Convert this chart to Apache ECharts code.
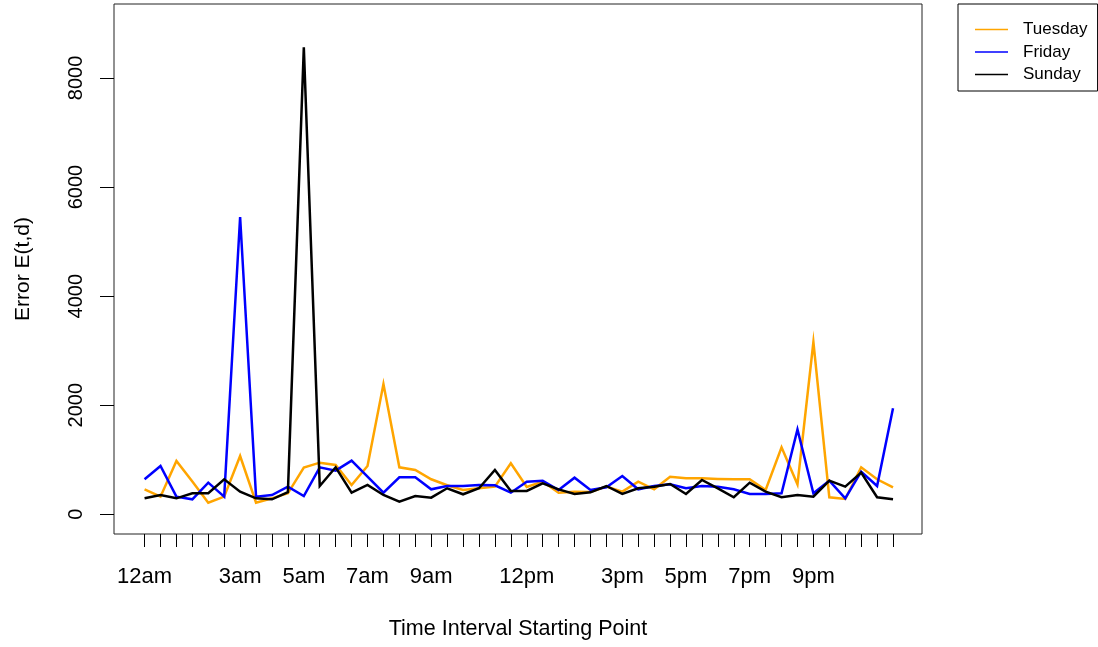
<!DOCTYPE html>
<html>
<head>
<meta charset="utf-8">
<script src="https://cdn.jsdelivr.net/npm/echarts@6/dist/echarts.min.js"></script>
<style>
  html, body { margin: 0; padding: 0; background: #fff; }
  #chart { width: 1098px; height: 647px; }
</style>
</head>
<body>
<div id="chart"></div>
<script>
// 48 half-hour intervals across the day (index 0 = 12am)
const slotCount = 48;
const tickLabelSlots = [0, 6, 10, 14, 18, 24, 30, 34, 38, 42];
const tickLabels = ['12am', '3am', '5am', '7am', '9am', '12pm', '3pm', '5pm', '7pm', '9pm'];
const yTicks = [0, 2000, 4000, 6000, 8000];

const seriesNames = ['Tuesday', 'Friday', 'Sunday'];

const tuesday = [458, 324, 978, 600, 214, 324, 1069, 214, 293, 385, 855, 947,
  904, 538, 886, 2389, 862, 813, 642, 532, 446, 477, 507, 935,
  500, 600, 397, 415, 409, 507, 415, 599, 458, 690, 660, 660,
  648, 642, 642, 446, 1228, 550, 3159, 312, 281, 862, 642, 495];

const friday = [642, 886, 324, 275, 580, 324, 5450, 324, 354, 507, 336, 862,
  800, 984, 690, 397, 678, 678, 458, 519, 519, 538, 532, 397,
  599, 617, 446, 672, 446, 495, 703, 458, 519, 550, 477, 519,
  507, 458, 373, 373, 385, 1558, 385, 617, 293, 782, 519, 1943];

const sunday = [293, 354, 293, 385, 385, 642, 415, 293, 275, 407, 8560, 519,
  862, 397, 538, 354, 232, 336, 305, 477, 367, 477, 813, 428,
  428, 568, 458, 373, 403, 519, 373, 477, 507, 556, 373, 629,
  477, 312, 580, 415, 312, 354, 324, 617, 507, 764, 312, 275];

const seriesColors = ['#FFA500', '#0000FF', '#000000'];

const slots = Array.from({ length: slotCount }, (_, i) => i);
const toPairs = vals => vals.map((v, i) => [i, v]);

const FONT = '"Liberation Sans", Arial, sans-serif';

const chart = echarts.init(document.getElementById('chart'), null, { renderer: 'canvas' });

chart.setOption({
  animation: false,
  backgroundColor: '#ffffff',
  grid: {
    left: 114, right: 176, top: 4, bottom: 113,
    show: true, borderColor: '#222', borderWidth: 1, backgroundColor: 'transparent'
  },
  xAxis: {
    type: 'value',
    min: -1.92,
    max: 48.82,
    name: 'Time Interval Starting Point',
    nameLocation: 'middle',
    nameGap: 84,
    nameTextStyle: { fontFamily: FONT, fontSize: 21.5, color: '#000' },
    axisLine: { show: false, onZero: false },
    splitLine: { show: false },
    axisTick: {
      show: true, length: 13, inside: false,
      customValues: slots,
      lineStyle: { color: '#000', width: 1 }
    },
    axisLabel: {
      show: true,
      customValues: tickLabelSlots,
      margin: 32,
      fontFamily: FONT, fontSize: 22, color: '#000',
      formatter: v => tickLabels[tickLabelSlots.indexOf(Math.round(v))] || ''
    }
  },
  yAxis: {
    type: 'value',
    min: -361,
    max: 9356,
    name: 'Error E(t,d)',
    nameLocation: 'middle',
    nameGap: 80,
    nameTextStyle: { fontFamily: FONT, fontSize: 21, color: '#000' },
    axisLine: { show: false, onZero: false },
    splitLine: { show: false },
    axisTick: {
      show: true, length: 14, inside: false,
      customValues: yTicks,
      lineStyle: { color: '#000', width: 1 }
    },
    axisLabel: {
      show: true,
      customValues: yTicks,
      rotate: 90,
      margin: 28,
      fontFamily: FONT, fontSize: 20, color: '#000',
      formatter: v => String(Math.round(v))
    }
  },
  legend: {
    orient: 'vertical',
    left: 958, top: 4,
    borderColor: '#000', borderWidth: 1, borderRadius: 0,
    padding: [17, 10, 8, 17],
    itemGap: 5.5,
    itemWidth: 33, itemHeight: 1.6,
    icon: 'rect',
    textStyle: { fontFamily: FONT, fontSize: 17, lineHeight: 16, color: '#000', padding: [0, 0, 0, 10] },
    data: seriesNames
  },
  series: [tuesday, friday, sunday].map((vals, k) => ({
    name: seriesNames[k],
    type: 'line',
    data: toPairs(vals),
    symbol: 'none',
    color: seriesColors[k],
    lineStyle: { color: seriesColors[k], width: 2.5, join: 'miter' },
    z: 2 + k
  }))
});
</script>
</body>
</html>
